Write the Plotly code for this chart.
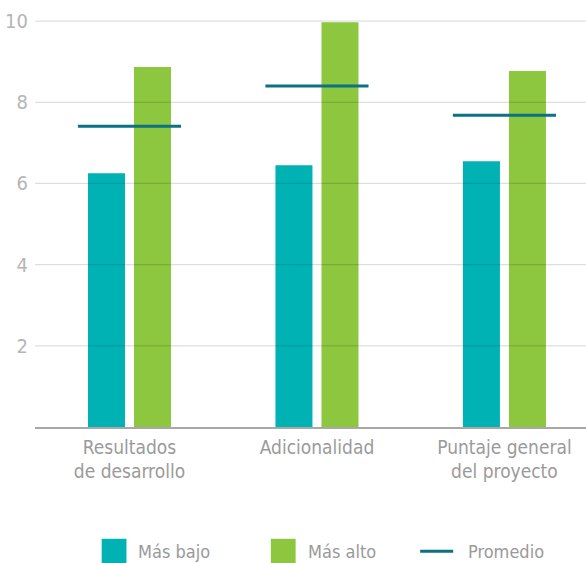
import plotly.graph_objects as go

# Puntajes por categoría
categorias = ["Resultados<br>de desarrollo", "Adicionalidad", "Puntaje general<br>del proyecto"]
mas_bajo = [6.25, 6.45, 6.55]
mas_alto = [8.87, 9.97, 8.77]
promedio = [7.41, 8.40, 7.68]
ticks_y = [2, 4, 6, 8, 10]

TEAL = "#00b2b4"
GREEN = "#8dc63f"
LINE = "#0d7185"
GRAY = "#9a9a9a"
FONT = "DejaVu Sans Condensed, Roboto, sans-serif"

x_idx = list(range(len(categorias)))

fig = go.Figure()
fig.add_trace(go.Bar(x=x_idx, y=mas_bajo, name="Más bajo", marker_color=TEAL, marker_line_width=0))
fig.add_trace(go.Bar(x=x_idx, y=mas_alto, name="Más alto", marker_color=GREEN, marker_line_width=0))

# Segmentos horizontales del promedio, centrados en cada categoría
half = 0.275
px, py = [], []
for i, v in zip(x_idx, promedio):
    px += [i - half, i + half, None]
    py += [v, v, None]
fig.add_trace(go.Scatter(x=px, y=py, mode="lines", name="Promedio",
                         line=dict(color=LINE, width=3)))

# Líneas de la cuadrícula dibujadas sobre las barras
shapes = []
for t in ticks_y:
    shapes.append(dict(type="line", xref="paper", yref="y", x0=0, x1=1, y0=t, y1=t,
                       line=dict(color="rgba(0,0,0,0.13)", width=1.2), layer="above"))

# Leyenda personalizada
leg_y = -0.30
sw_h = 0.06
items = [
    ("rect", TEAL, "Más bajo", 0.121),
    ("rect", GREEN, "Más alto", 0.428),
    ("line", LINE, "Promedio", 0.699),
]
annotations = []
for kind, color, label, x0 in items:
    if kind == "rect":
        shapes.append(dict(type="rect", xref="paper", yref="paper",
                           x0=x0, x1=x0 + 0.045, y0=leg_y - sw_h / 2, y1=leg_y + sw_h / 2,
                           fillcolor=color, line=dict(width=0)))
        tx = x0 + 0.063
    else:
        shapes.append(dict(type="line", xref="paper", yref="paper",
                           x0=x0, x1=x0 + 0.06, y0=leg_y, y1=leg_y,
                           line=dict(color=color, width=3)))
        tx = x0 + 0.083
    annotations.append(dict(x=tx, y=leg_y, xref="paper", yref="paper", text=label,
                            showarrow=False, xanchor="left", yanchor="middle",
                            font=dict(family=FONT, size=18, color=GRAY)))

fig.update_layout(
    width=586, height=563,
    margin=dict(l=35, r=0, t=13, b=136),
    plot_bgcolor="white", paper_bgcolor="white",
    barmode="group", bargap=0.509, bargroupgap=0.196,
    showlegend=False,
    shapes=shapes, annotations=annotations,
    xaxis=dict(range=[-0.504, 2.435], tickmode="array", tickvals=x_idx, ticktext=categorias,
               showgrid=False, zeroline=False, showline=True, linecolor="#a8a8a8", linewidth=1.5,
               ticks="", ticklabelstandoff=2,
               tickfont=dict(family=FONT, size=19, color=GRAY)),
    yaxis=dict(range=[0, 10.2], tickmode="array", tickvals=ticks_y, showgrid=False,
               zeroline=False, showline=False, ticks="", ticklabelstandoff=6,
               tickfont=dict(family=FONT, size=20, color="#b5b5b5")),
)

fig.write_html("out.html")
